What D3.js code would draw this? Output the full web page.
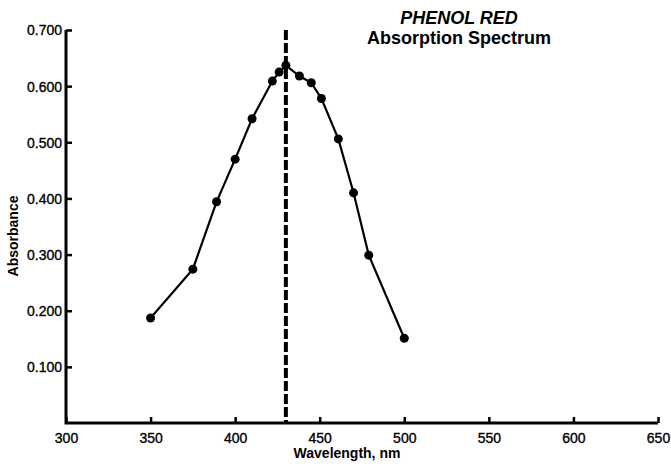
<!DOCTYPE html>
<html>
<head>
<meta charset="utf-8">
<script src="https://cdn.jsdelivr.net/npm/d3@7"></script>
<style>
  body { margin: 0; background: #fff; }
  text { font-family: "Liberation Sans", Arial, sans-serif; fill: #000; }
</style>
</head>
<body>
<svg id="chart" width="671" height="466"></svg>
<script>
// Absorption spectrum readings
const wavelengths = [350, 375, 389, 400, 410, 422, 426, 430, 438, 445, 451, 461, 470, 479, 500];
const absorbance = [0.187, 0.274, 0.394, 0.470, 0.542, 0.609, 0.625, 0.637, 0.618, 0.606, 0.578, 0.506, 0.410, 0.299, 0.151];
const peakWavelength = 430;

const xTicks = [300, 350, 400, 450, 500, 550, 600, 650];
const yTicks = [0.1, 0.2, 0.3, 0.4, 0.5, 0.6, 0.7];

const svg = d3.select("#chart");
const margin = { left: 66, right: 12, top: 30, bottom: 43 };
const width = 671, height = 466;

const x = d3.scaleLinear()
    .domain([300, 650])
    .range([margin.left, width - margin.right - 1]);

const y = d3.scaleLinear()
    .domain([0, 0.7])
    .range([height - margin.bottom, margin.top]);

// x axis, ticks pointing up into the plot
const xAxis = svg.append("g")
    .attr("transform", `translate(0,${y(0)})`)
    .call(d3.axisBottom(x).tickValues(xTicks).tickSizeInner(-6).tickSizeOuter(0).tickPadding(10));

// y axis, ticks pointing right
const yAxis = svg.append("g")
    .attr("transform", `translate(${x(300)},0)`)
    .call(d3.axisLeft(y).tickValues(yTicks).tickFormat(d3.format(".3f")).tickSizeInner(-6).tickSizeOuter(0).tickPadding(4));

[xAxis, yAxis].forEach(a => {
    a.select(".domain").remove();
    a.selectAll(".tick line").attr("stroke", "#000").attr("stroke-width", 2.5);
    a.selectAll(".tick text")
        .attr("font-family", "Liberation Sans, Arial, sans-serif")
        .attr("font-size", 14)
        .attr("fill", "#000")
        .attr("stroke", "#000")
        .attr("stroke-width", 0.35);
});
yAxis.selectAll(".tick text").attr("dy", "0.35em");

// heavy axis frame (left + bottom)
svg.append("path")
    .attr("d", d3.line()([[x(300), y(0.7)], [x(300), y(0)], [x(650), y(0)]]))
    .attr("fill", "none")
    .attr("stroke", "#000")
    .attr("stroke-width", 3);

// peak marker line
svg.append("line")
    .attr("x1", x(peakWavelength))
    .attr("x2", x(peakWavelength))
    .attr("y1", y(0.7))
    .attr("y2", y(0))
    .attr("stroke", "#000")
    .attr("stroke-width", 4)
    .attr("stroke-dasharray", "10,3");

const points = wavelengths.map((w, i) => ({ w: w, a: absorbance[i] }));

const line = d3.line()
    .x(d => x(d.w))
    .y(d => y(d.a));

svg.append("path")
    .datum(points)
    .attr("fill", "none")
    .attr("stroke", "#000")
    .attr("stroke-width", 2.2)
    .attr("d", line);

svg.selectAll(".pt")
    .data(points)
    .enter().append("circle")
    .attr("class", "pt")
    .attr("cx", d => x(d.w))
    .attr("cy", d => y(d.a))
    .attr("r", 4.5)
    .attr("fill", "#000");

// axis titles
svg.append("text")
    .attr("x", 347)
    .attr("y", 458)
    .attr("text-anchor", "middle")
    .attr("font-weight", "bold")
    .attr("font-size", 14)
    .text("Wavelength, nm");

svg.append("text")
    .attr("transform", "translate(18,236) rotate(-90)")
    .attr("text-anchor", "middle")
    .attr("font-weight", "bold")
    .attr("font-size", 14)
    .text("Absorbance");

// title
svg.append("text")
    .attr("x", 459)
    .attr("y", 24)
    .attr("text-anchor", "middle")
    .attr("font-weight", "bold")
    .attr("font-style", "italic")
    .attr("font-size", 18)
    .text("PHENOL RED");

svg.append("text")
    .attr("x", 459)
    .attr("y", 44)
    .attr("text-anchor", "middle")
    .attr("font-weight", "bold")
    .attr("font-size", 18)
    .text("Absorption Spectrum");
</script>
</body>
</html>
